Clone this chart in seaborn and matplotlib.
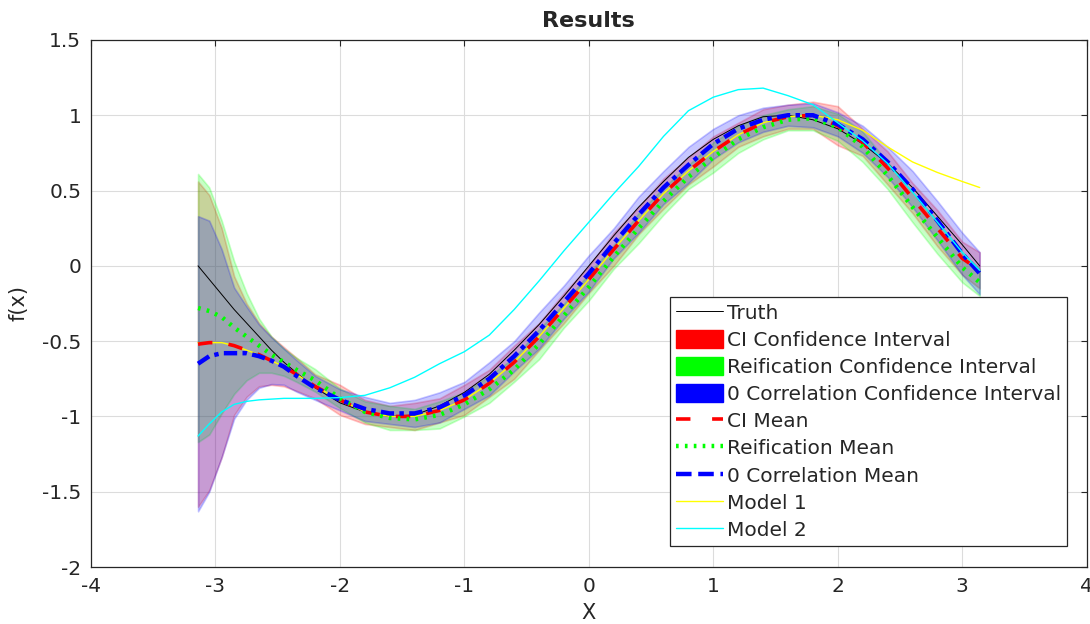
import matplotlib
matplotlib.use("Agg")
import matplotlib.pyplot as plt
from matplotlib.lines import Line2D
from matplotlib.patches import Patch
import seaborn as sns

# sample points along X (finer on the left where the bands move fast)
x = [-3.14, -3.05, -2.95, -2.85, -2.75, -2.65, -2.55, -2.45, -2.35, -2.2, -2.0,
     -1.8, -1.6, -1.4, -1.2, -1.0, -0.8, -0.6, -0.4, -0.2, 0.0, 0.2, 0.4, 0.6,
     0.8, 1.0, 1.2, 1.4, 1.6, 1.8, 2.0, 2.2, 2.4, 2.6, 2.8, 3.0, 3.14]

truth = [0.00, -0.09, -0.19, -0.29, -0.38, -0.47, -0.56, -0.64, -0.71, -0.81, -0.91,
         -0.97, -1.00, -0.99, -0.93, -0.84, -0.72, -0.56, -0.39, -0.20, 0.00, 0.20, 0.39, 0.56,
         0.72, 0.84, 0.93, 0.99, 1.00, 0.97, 0.91, 0.81, 0.68, 0.52, 0.33, 0.14, 0.00]

ci_mean = [-0.52, -0.51, -0.51, -0.53, -0.56, -0.59, -0.63, -0.67, -0.72, -0.80, -0.89,
           -0.97, -1.00, -1.00, -0.96, -0.89, -0.78, -0.64, -0.47, -0.28, -0.09, 0.11, 0.30, 0.48,
           0.63, 0.76, 0.87, 0.95, 0.99, 1.00, 0.93, 0.82, 0.65, 0.45, 0.25, 0.05, -0.03]

reif_mean = [-0.28, -0.30, -0.34, -0.41, -0.47, -0.53, -0.59, -0.64, -0.69, -0.76, -0.88,
             -0.97, -1.01, -1.02, -0.99, -0.92, -0.82, -0.69, -0.52, -0.33, -0.14, 0.06, 0.25, 0.43,
             0.59, 0.72, 0.84, 0.92, 0.97, 0.98, 0.92, 0.79, 0.60, 0.39, 0.19, -0.01, -0.11]

zero_mean = [-0.65, -0.60, -0.58, -0.58, -0.58, -0.60, -0.63, -0.67, -0.73, -0.81, -0.89,
             -0.95, -0.98, -0.98, -0.94, -0.86, -0.75, -0.60, -0.43, -0.24, -0.05, 0.15, 0.34, 0.52,
             0.67, 0.81, 0.91, 0.97, 1.00, 1.00, 0.94, 0.84, 0.69, 0.51, 0.30, 0.08, -0.05]

model1 = [-0.51, -0.51, -0.51, -0.53, -0.56, -0.59, -0.63, -0.67, -0.72, -0.80, -0.89,
          -0.97, -1.00, -1.00, -0.96, -0.89, -0.78, -0.64, -0.47, -0.28, -0.09, 0.11, 0.30, 0.48,
          0.63, 0.76, 0.87, 0.95, 0.99, 1.00, 0.97, 0.90, 0.79, 0.69, 0.62, 0.56, 0.52]

model2 = [-1.13, -1.05, -0.97, -0.92, -0.90, -0.89, -0.885, -0.88, -0.88, -0.88, -0.875,
          -0.86, -0.81, -0.74, -0.65, -0.57, -0.46, -0.29, -0.10, 0.10, 0.29, 0.48, 0.66, 0.86,
          1.03, 1.12, 1.17, 1.18, 1.13, 1.07, 0.95, 0.83, 0.68, 0.49, 0.29, 0.09, -0.03]

# half widths of the confidence intervals
ci_hw = [1.08, 0.98, 0.76, 0.46, 0.31, 0.21, 0.16, 0.13, 0.11, 0.08, 0.10,
         0.08, 0.07, 0.09, 0.08, 0.10, 0.09, 0.11, 0.09, 0.10, 0.09, 0.11, 0.09, 0.10,
         0.09, 0.10, 0.08, 0.09, 0.08, 0.09, 0.13, 0.09, 0.11, 0.10, 0.12, 0.11, 0.12]

reif_hw = [0.89, 0.82, 0.64, 0.44, 0.29, 0.18, 0.12, 0.09, 0.08, 0.075, 0.065,
           0.07, 0.08, 0.07, 0.09, 0.08, 0.09, 0.08, 0.10, 0.08, 0.09, 0.08, 0.10, 0.09,
           0.08, 0.10, 0.09, 0.08, 0.07, 0.08, 0.09, 0.10, 0.09, 0.10, 0.11, 0.10, 0.09]

zero_hw = [0.98, 0.90, 0.69, 0.435, 0.31, 0.21, 0.155, 0.12, 0.105, 0.08, 0.07,
           0.08, 0.07, 0.09, 0.10, 0.09, 0.11, 0.10, 0.12, 0.11, 0.12, 0.10, 0.12, 0.11,
           0.12, 0.10, 0.09, 0.08, 0.07, 0.08, 0.08, 0.09, 0.10, 0.12, 0.13, 0.14, 0.14]

sns.set_style("whitegrid")
plt.rcParams['font.family'] = ['DejaVu Sans']

fig = plt.figure(figsize=(10.9, 6.24), dpi=100)
ax = fig.add_axes([0.0835, 0.0913, 0.9135, 0.8447])

# Confidence bands
bands = [(ci_mean, ci_hw, (1, 0, 0)), (reif_mean, reif_hw, (0, 1, 0)), (zero_mean, zero_hw, (0, 0, 1))]
for mean, hw, col in bands:
    lo = [m - h for m, h in zip(mean, hw)]
    hi = [m + h for m, h in zip(mean, hw)]
    ax.fill_between(x, lo, hi, facecolor=col, edgecolor=col, alpha=0.22, linewidth=1.2)

red_ls = (0, (4, 4.5))
green_ls = (0, (0.6, 1.4))
blue_ls = (0, (3, 1.2, 1, 1.2))

# Lines
sns.lineplot(x=x, y=truth, ax=ax, color='black', linewidth=0.7, sort=False)
sns.lineplot(x=x, y=model1, ax=ax, color=(1, 1, 0), linewidth=1.0, sort=False)
sns.lineplot(x=x, y=ci_mean, ax=ax, color='red', linewidth=2.6, sort=False, linestyle=red_ls)
sns.lineplot(x=x, y=reif_mean, ax=ax, color=(0, 1, 0), linewidth=3.2, sort=False,
             linestyle=green_ls, dash_capstyle='butt')
sns.lineplot(x=x, y=zero_mean, ax=ax, color='blue', linewidth=3.2, sort=False, linestyle=blue_ls)
sns.lineplot(x=x, y=model2, ax=ax, color=(0, 1, 1), linewidth=1.0, sort=False)

ax.set_xlim(-4, 4)
ax.set_ylim(-2, 1.5)
ax.set_xticks(range(-4, 5))
ax.set_yticks([-2, -1.5, -1, -0.5, 0, 0.5, 1, 1.5])
ax.set_yticklabels(['-2', '-1.5', '-1', '-0.5', '0', '0.5', '1', '1.5'])
ax.set_xticklabels([str(v) for v in range(-4, 5)])
ax.grid(True, color='#dcdcdc', linewidth=0.8)
ax.tick_params(direction='in', top=True, right=True, length=4, labelsize=14.5,
               colors='#262626', width=0.8, pad=7)
for s in ax.spines.values():
    s.set_color('#262626')
    s.set_linewidth(0.9)

ax.set_title('Results', fontsize=16, fontweight='bold', pad=9)
ax.set_xlabel('X', fontsize=15, labelpad=5)
ax.set_ylabel('f(x)', fontsize=15, labelpad=10)

handles = [
    Line2D([], [], color='black', linewidth=0.7),
    Patch(facecolor='red', edgecolor='red'),
    Patch(facecolor=(0, 1, 0), edgecolor=(0, 1, 0)),
    Patch(facecolor='blue', edgecolor='blue'),
    Line2D([], [], color='red', linewidth=2.6, linestyle=(0, (4, 6))),
    Line2D([], [], color=(0, 1, 0), linewidth=3.2, linestyle=green_ls),
    Line2D([], [], color='blue', linewidth=3.2, linestyle=(0, (3.5, 1.5))),
    Line2D([], [], color=(1, 1, 0), linewidth=1.0),
    Line2D([], [], color=(0, 1, 1), linewidth=1.0),
]
labels = ['Truth', 'CI Confidence Interval', 'Reification Confidence Interval',
          '0 Correlation Confidence Interval', 'CI Mean', 'Reification Mean',
          '0 Correlation Mean', 'Model 1', 'Model 2']
leg = ax.legend(handles, labels, loc='lower right', bbox_to_anchor=(0.98, 0.04),
                borderaxespad=0, fontsize=14.5, frameon=True, fancybox=False,
                handlelength=2.3, handleheight=1.0, handletextpad=0.2, labelspacing=0.36,
                borderpad=0.3, framealpha=1)
leg.get_frame().set_edgecolor('#262626')
leg.get_frame().set_linewidth(0.9)

fig.savefig('out.png', dpi=100)
